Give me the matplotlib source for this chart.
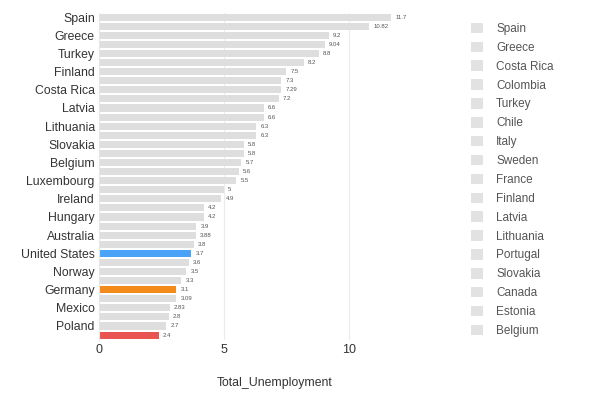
import matplotlib.pyplot as plt
from matplotlib.patches import Patch

plt.rcParams['font.family'] = ['Liberation Sans', 'DejaVu Sans']

# bars, top to bottom
countries = ['Spain', 'Colombia', 'Greece', 'Italy', 'Turkey', 'Chile',
             'Finland', 'Sweden', 'Costa Rica', 'France', 'Latvia', 'Portugal',
             'Lithuania', 'Canada', 'Slovakia', 'Estonia', 'Belgium', 'Austria',
             'Luxembourg', 'Denmark', 'Ireland', 'Slovenia', 'Hungary', 'New Zealand',
             'Australia', 'Israel', 'United States', 'Netherlands', 'Norway',
             'United Kingdom', 'Germany', 'Korea', 'Mexico', 'Iceland', 'Poland', 'Japan']
values = [11.7, 10.82, 9.2, 9.04, 8.8, 8.2, 7.5, 7.3, 7.29, 7.2, 6.6, 6.6,
          6.3, 6.3, 5.8, 5.8, 5.7, 5.6, 5.5, 5, 4.9, 4.2, 4.2, 3.9,
          3.88, 3.8, 3.7, 3.6, 3.5, 3.3, 3.1, 3.09, 2.83, 2.8, 2.7, 2.4]
value_text = ['11.7', '10.82', '9.2', '9.04', '8.8', '8.2', '7.5', '7.3', '7.29', '7.2',
              '6.6', '6.6', '6.3', '6.3', '5.8', '5.8', '5.7', '5.6', '5.5', '5', '4.9',
              '4.2', '4.2', '3.9', '3.88', '3.8', '3.7', '3.6', '3.5', '3.3', '3.1',
              '3.09', '2.83', '2.8', '2.7', '2.4']
highlight = {'United States': '#4aa3f7', 'Germany': '#f28b1a', 'Japan': '#ea5450'}

legend_names = ['Spain', 'Greece', 'Costa Rica', 'Colombia', 'Turkey', 'Chile', 'Italy',
                'Sweden', 'France', 'Finland', 'Latvia', 'Lithuania', 'Portugal',
                'Slovakia', 'Canada', 'Estonia', 'Belgium']

grey = '#dedede'
colors = [highlight.get(c, grey) for c in countries]

fig = plt.figure(figsize=(6, 4), dpi=100)
ax = fig.add_axes([0.165, 0.151, 0.587, 0.8175])

pos = list(range(len(countries)))
bars = ax.barh(pos, values, height=0.78, color=colors, zorder=2)
ax.bar_label(bars, labels=value_text, padding=3, fontsize=4.3, color='#555555')

ax.set_ylim(len(countries) - 0.5, -0.5)
ax.set_xlim(0, 14.1)
ax.set_yticks(pos[::2])
ax.set_yticklabels(countries[::2], fontsize=8.8, color='#333333')
ax.set_xticks([0, 5, 10])
ax.tick_params(axis='x', labelsize=9, colors='#333333', length=0, pad=3)
ax.tick_params(axis='y', length=0, pad=3)
ax.grid(axis='x', color='#ececec', linewidth=0.8, zorder=0)
for s in ['top', 'right', 'bottom']:
    ax.spines[s].set_visible(False)
ax.spines['left'].set_color('#e6e6e6')
ax.set_xlabel('Total_Unemployment', fontsize=8.8, color='#333333', labelpad=15)

handles = [Patch(facecolor='#e2e2e2', edgecolor='none') for n in legend_names]
fig.legend(handles, legend_names, loc='upper left', bbox_to_anchor=(0.768, 0.97),
           frameon=False, fontsize=8.5, labelcolor='#555555', handlelength=1.0,
           handleheight=1.0, handletextpad=1.1, labelspacing=0.555)

fig.savefig('out.png', dpi=100)
